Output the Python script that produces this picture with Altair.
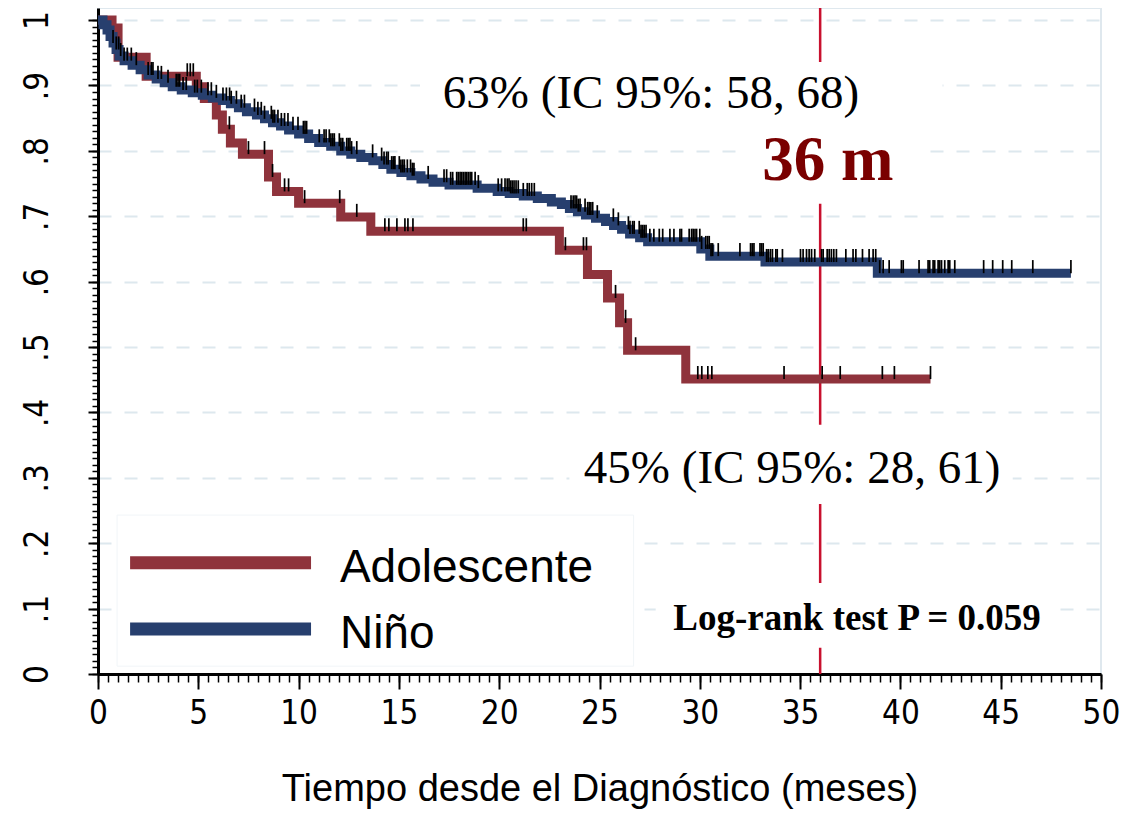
import altair as alt
import pandas as pd

# ---------------- data ----------------
GROUPS = ["Adolescente", "Niño"]
COLORS = ["#8f333c", "#273f6e"]

# Kaplan-Meier step curves (time in months, survival); last point = end of follow-up
ADO_T = [0, 0.7, 1.0, 2.4, 4.9, 5.3, 5.9, 6.2, 6.6, 7.2, 8.5, 8.9, 10.0, 12.1, 13.6,
         23.0, 24.4, 25.4, 26.0, 26.4, 29.3, 41.5]
ADO_S = [1.0, 0.988, 0.943, 0.914, 0.898, 0.88, 0.855, 0.833, 0.812, 0.795, 0.76, 0.738,
         0.72, 0.699, 0.677, 0.648, 0.611, 0.575, 0.537, 0.495, 0.451, 0.451]

NINO_T = [0, 0.25, 0.45, 0.6, 0.75, 0.9, 1.05, 1.3, 1.7, 2.1, 2.5, 2.9, 3.3, 3.7, 4.15,
          4.7, 5.2, 5.7, 6.2, 6.6, 7.0, 7.4, 7.9, 8.3, 8.7, 9.1, 9.5, 10.0, 10.5, 11.0,
          11.6, 12.1, 12.6, 13.1, 13.7, 14.2, 14.6, 15.1, 15.6, 16.1, 16.7, 17.5, 18.9,
          19.9, 20.5, 21.2, 21.9, 22.6, 23.1, 23.5, 23.9, 24.3, 24.8, 25.3, 25.7, 26.1,
          26.5, 27.0, 27.4, 30.05, 30.5, 33.25, 38.85, 48.5]
NINO_S = [1.0, 0.993, 0.985, 0.975, 0.965, 0.955, 0.945, 0.938, 0.931, 0.924, 0.916,
          0.91, 0.904, 0.898, 0.893, 0.889, 0.885, 0.881, 0.877, 0.872, 0.866, 0.86,
          0.855, 0.849, 0.843, 0.838, 0.832, 0.826, 0.819, 0.813, 0.807, 0.8, 0.795,
          0.79, 0.785, 0.779, 0.772, 0.767, 0.762, 0.757, 0.752, 0.748, 0.743, 0.738,
          0.735, 0.731, 0.727, 0.722, 0.718, 0.712, 0.707, 0.702, 0.697, 0.692, 0.686,
          0.68, 0.673, 0.667, 0.661, 0.65, 0.639, 0.63, 0.613, 0.613]

# censoring times
ADO_CENSOR = [4.45, 4.6, 4.75, 6.55, 7.5, 8.3, 8.7, 9.3, 9.5, 10.3, 12.05, 12.9, 14.3,
              14.5, 14.9, 15.3, 15.45, 15.7, 21.2, 21.35, 23.3, 24.2, 24.35, 25.8, 26.3,
              26.8, 29.9, 30.1, 30.4, 30.6, 34.2, 36.1, 37.0, 39.1, 39.7, 41.5]
NINO_CENSOR = [0.75, 0.91, 1.03, 1.13, 1.3, 1.46, 1.66, 1.91, 2.5, 2.66, 2.74, 2.99, 3.16,
               3.49, 3.9, 3.99, 4.07, 4.24, 4.4, 4.82, 4.95, 5.15, 5.48, 5.65, 5.9, 6.23,
               6.4, 6.56, 6.64, 6.9, 7.14, 7.3, 7.8, 7.97, 8.14, 8.3, 8.64, 8.72, 8.8,
               8.97, 9.14, 9.3, 9.47, 9.72, 9.97, 10.24, 10.32, 10.4, 11.03, 11.27, 11.37,
               11.53, 11.61, 11.7, 11.78, 12.03, 12.11, 12.2, 12.4, 12.48, 12.56, 12.64,
               12.9, 13.69, 14.14, 14.26, 14.39, 14.47, 14.64, 14.72, 14.8, 15.02, 15.1,
               15.19, 15.27, 15.42, 15.58, 15.67, 15.75, 16.46, 17.25, 17.38, 17.58,
               17.68, 17.88, 17.96, 18.05, 18.13, 18.21, 18.3, 18.38, 18.46, 18.55, 18.63,
               18.8, 18.96, 19.95, 20.12, 20.29, 20.4, 20.49, 20.57, 20.65, 20.74, 20.84,
               20.95, 21.2, 21.4, 21.5, 21.62, 21.75, 23.58, 23.69, 23.78, 23.86, 23.94,
               24.03, 24.28, 24.41, 24.49, 24.57, 24.66, 24.89, 25.69, 25.94, 26.44,
               26.52, 26.65, 26.73, 26.98, 27.07, 27.15, 27.23, 27.32, 27.51, 27.71,
               27.98, 28.15, 28.51, 28.71, 29.01, 29.09, 29.47, 29.59, 29.67, 29.76,
               29.84, 30.0, 30.09, 30.3, 30.39, 30.47, 30.56, 30.64, 30.92, 32.0, 32.53,
               32.61, 32.7, 33.0, 33.08, 33.16, 33.33, 33.41, 33.52, 33.62, 33.79, 33.86,
               34.12, 35.02, 35.15, 35.32, 35.45, 35.57, 35.73, 36.07, 36.15, 36.35,
               36.45, 36.56, 36.68, 36.81, 37.28, 37.64, 37.78, 38.11, 38.44, 38.64,
               38.77, 38.97, 39.14, 39.44, 40.05, 40.14, 40.93, 41.38, 41.46, 41.63,
               41.71, 41.88, 41.96, 42.05, 42.21, 42.38, 42.46, 42.71, 44.15, 44.6, 45.1,
               45.55, 46.6, 48.5]

X_MAJOR = [0, 5, 10, 15, 20, 25, 30, 35, 40, 45, 50]
Y_MAJOR = [0, 0.1, 0.2, 0.3, 0.4, 0.5, 0.6, 0.7, 0.8, 0.9, 1.0]
X_MINOR = [i * 0.5 for i in range(101)]
Y_MINOR = [round(i * 0.01, 2) for i in range(101)]

X_TITLE = "Tiempo desde el Diagnóstico (meses)"
TXT_NINO = "63% (IC 95%: 58, 68)"
TXT_ADO = "45% (IC 95%: 28, 61)"
TXT_TIME = "36 m"
TXT_LOGRANK = "Log-rank test P = 0.059"
REF_TIME = 36

# ---------------- layout / style constants ----------------
YTOP = 1.0185
W, H = 1003, 666
SANS = "Liberation Sans, Arial, sans-serif"
NARROW = "Liberation Sans Narrow, Arial Narrow, DejaVu Sans Condensed, sans-serif"
SERIF = "Liberation Serif, Times New Roman, serif"
GRID = "#dde8ee"


def surv(ts, ss, t):
    v = ss[0]
    for ti, si in zip(ts, ss):
        if ti <= t:
            v = si
    return v


curve_ado = pd.DataFrame({"t": ADO_T, "s": ADO_S, "g": GROUPS[0]})
curve_nino = pd.DataFrame({"t": NINO_T, "s": NINO_S, "g": GROUPS[1]})
cens = pd.DataFrame(
    [{"t": t, "s": surv(ADO_T, ADO_S, t)} for t in ADO_CENSOR]
    + [{"t": t, "s": surv(NINO_T, NINO_S, t)} for t in NINO_CENSOR]
)
cens["s2"] = cens["s"] + 0.02

xs = alt.Scale(domain=[0, 50], nice=False, zero=False)
ys = alt.Scale(domain=[0, YTOP], nice=False, zero=False)

major_lbl_y = ("datum.value == 0 ? '0' : datum.value >= 0.999 ? '1' : "
               "'.' + format(round(datum.value * 10), 'd')")

# major axes + grid (invisible carrier mark)
axes_major = alt.Chart(curve_nino).mark_point(opacity=0).encode(
    x=alt.X("t:Q", scale=xs, axis=alt.Axis(
        values=X_MAJOR, title=X_TITLE, orient="bottom", grid=False,
        domainColor="black", domainWidth=3, tickColor="black", tickWidth=2,
        tickSize=15, labelFont=NARROW, labelFontSize=33, labelColor="black",
        labelPadding=8, labelFlush=False, format="d",
        titleFont=SANS, titleFontSize=38, titleFontWeight="normal",
        titleColor="black", titlePadding=40)),
    y=alt.Y("s:Q", scale=ys, axis=alt.Axis(
        values=Y_MAJOR, title=None, orient="left", grid=True,
        gridColor=GRID, gridDash=[13, 13], gridWidth=2,
        domainColor="black", domainWidth=3, tickColor="black", tickWidth=2,
        tickSize=10, labelFont=NARROW, labelFontSize=33, labelColor="black",
        labelAngle=270, labelAlign="center", labelBaseline="alphabetic",
        labelPadding=41, labelFlush=False, labelExpr=major_lbl_y)),
)

axes_minor = alt.Chart(curve_nino).mark_point(opacity=0).encode(
    x=alt.X("t:Q", scale=xs, axis=alt.Axis(
        values=X_MINOR, title=None, orient="bottom", grid=False, domain=False,
        labels=False, tickColor="black", tickWidth=1.5, tickSize=8)),
    y=alt.Y("s:Q", scale=ys, axis=alt.Axis(
        values=Y_MINOR, title=None, orient="left", grid=False, domain=False,
        labels=False, tickColor="black", tickWidth=1.5, tickSize=6)),
)

ref = alt.Chart(pd.DataFrame({"t": [REF_TIME], "s": [0], "s2": [YTOP]})).mark_rule(
    color="#c8102e", strokeWidth=2.5).encode(
    x=alt.X("t:Q", scale=xs, axis=None),
    y=alt.Y("s:Q", scale=ys, axis=None), y2="s2:Q")

boxes = pd.DataFrame({
    "x": [16.05, 32.2, 23.5, 27.8], "x2": [42.1, 41.1, 45.6, 47.4],
    "y": [0.855, 0.719, 0.26, 0.04], "y2": [0.936, 0.86, 0.381, 0.139]})
box_layer = alt.Chart(boxes).mark_rect(fill="white").encode(
    x=alt.X("x:Q", scale=xs, axis=None), x2="x2:Q",
    y=alt.Y("y:Q", scale=ys, axis=None), y2="y2:Q")

leg_box = alt.Chart(pd.DataFrame({"x": [0.95], "x2": [26.7], "y": [0.012], "y2": [0.243]})
                    ).mark_rect(fill="white", stroke="#f1f5f8", strokeWidth=1).encode(
    x=alt.X("x:Q", scale=xs, axis=None), x2="x2:Q",
    y=alt.Y("y:Q", scale=ys, axis=None), y2="y2:Q")

line_ado = alt.Chart(curve_ado).mark_line(
    interpolate="step-after", strokeWidth=9, color=COLORS[0]).encode(
    x=alt.X("t:Q", scale=xs, axis=None), y=alt.Y("s:Q", scale=ys, axis=None))
line_nino = alt.Chart(curve_nino).mark_line(
    interpolate="step-after", strokeWidth=9, color=COLORS[1]).encode(
    x=alt.X("t:Q", scale=xs, axis=None), y=alt.Y("s:Q", scale=ys, axis=None))

ticks = alt.Chart(cens).mark_rule(color="black", strokeWidth=1.7).encode(
    x=alt.X("t:Q", scale=xs, axis=None),
    y=alt.Y("s:Q", scale=ys, axis=None), y2="s2:Q")

# legend drawn by hand
leg = pd.DataFrame({"g": GROUPS, "c": COLORS, "x": [1.6, 1.6], "x2": [10.62, 10.62],
                    "y": [0.170, 0.069], "lx": [12.06, 12.06], "ly": [0.1407, 0.0398]})
leg_lines = alt.Chart(leg).mark_rule(strokeWidth=13).encode(
    x=alt.X("x:Q", scale=xs, axis=None), x2="x2:Q",
    y=alt.Y("y:Q", scale=ys, axis=None),
    color=alt.Color("c:N", scale=None, legend=None))
leg_text = alt.Chart(leg).mark_text(
    font=SANS, fontSize=46, align="left", baseline="alphabetic", color="black").encode(
    x=alt.X("lx:Q", scale=xs, axis=None), y=alt.Y("ly:Q", scale=ys, axis=None),
    text="g:N")

ann = pd.DataFrame({
    "txt": [TXT_NINO, TXT_ADO], "x": [27.57, 34.6], "y": [0.865, 0.292]})
ann_text = alt.Chart(ann).mark_text(
    font=SERIF, fontSize=47, align="center", baseline="alphabetic", color="black").encode(
    x=alt.X("x:Q", scale=xs, axis=None), y=alt.Y("y:Q", scale=ys, axis=None), text="txt:N")

time_text = alt.Chart(pd.DataFrame({"txt": [TXT_TIME], "x": [36.39], "y": [0.755]})).mark_text(
    font=SERIF, fontSize=63, fontWeight="bold", align="center", baseline="alphabetic",
    color="#7a0000").encode(
    x=alt.X("x:Q", scale=xs, axis=None), y=alt.Y("y:Q", scale=ys, axis=None), text="txt:N")

lr_text = alt.Chart(pd.DataFrame({"txt": [TXT_LOGRANK], "x": [37.84], "y": [0.067]})).mark_text(
    font=SERIF, fontSize=37, fontWeight="bold", align="center", baseline="alphabetic",
    color="black").encode(
    x=alt.X("x:Q", scale=xs, axis=None), y=alt.Y("y:Q", scale=ys, axis=None), text="txt:N")

chart = alt.layer(
    axes_minor, axes_major, ref, box_layer, leg_box, line_ado, line_nino, ticks,
    leg_lines, leg_text, ann_text, time_text, lr_text
).resolve_axis(x="independent", y="independent").properties(
    width=W, height=H,
    autosize=alt.AutoSizeParams(type="none"),
    padding={"left": 90, "top": 0, "right": 28, "bottom": 148},
    background="white",
).configure_view(stroke="#dfe8ee", strokeWidth=2)

chart.save("out.html", embed_options={"renderer": "svg", "actions": False})
